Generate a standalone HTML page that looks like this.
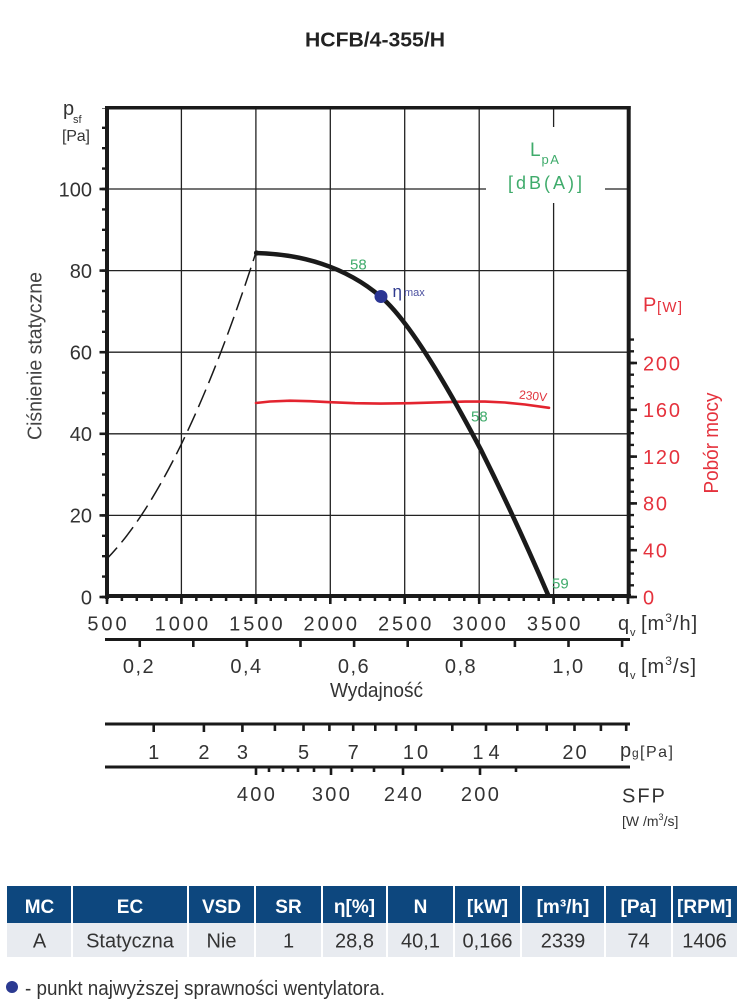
<!DOCTYPE html>
<html><head><meta charset="utf-8">
<style>
html,body{margin:0;padding:0;background:#fff}
svg{display:block}
text{font-family:"Liberation Sans","DejaVu Sans",sans-serif}
</style></head>
<body>
<svg width="740" height="1004" viewBox="0 0 740 1004" xmlns="http://www.w3.org/2000/svg">
<rect width="740" height="1004" fill="#fff"/>

<!-- Title -->
<text x="375" y="46.5" text-anchor="middle" font-size="20" font-weight="bold" fill="#222" textLength="140" lengthAdjust="spacingAndGlyphs">HCFB/4-355/H</text>

<!-- Gridlines -->
<g stroke="#222" stroke-width="1.3" fill="none">
  <line x1="107" y1="515.4" x2="628" y2="515.4"/>
  <line x1="107" y1="433.8" x2="628" y2="433.8"/>
  <line x1="107" y1="352.2" x2="628" y2="352.2"/>
  <line x1="107" y1="270.6" x2="628" y2="270.6"/>
  <line x1="107" y1="189" x2="486" y2="189"/>
  <line x1="605" y1="189" x2="628" y2="189"/>
  <line x1="181.4" y1="108" x2="181.4" y2="596"/>
  <line x1="255.9" y1="108" x2="255.9" y2="596"/>
  <line x1="330.3" y1="108" x2="330.3" y2="596"/>
  <line x1="404.7" y1="108" x2="404.7" y2="596"/>
  <line x1="479.2" y1="108" x2="479.2" y2="596"/>
  <line x1="553.6" y1="108" x2="553.6" y2="127"/>
  <line x1="553.6" y1="203" x2="553.6" y2="596"/>
</g>

<!-- Frame -->
<g stroke="#1a1a1a" fill="none">
  <line x1="105" y1="107.7" x2="630.7" y2="107.7" stroke-width="3.5"/>
  <line x1="107" y1="106" x2="107" y2="599" stroke-width="4"/>
  <line x1="628.7" y1="106" x2="628.7" y2="598" stroke-width="4"/>
  <line x1="105" y1="596" x2="631" y2="596" stroke-width="4"/>
</g>

<!-- Left ticks -->
<g stroke="#1a1a1a">
  <line x1="104.5" y1="598.2" x2="104.5" y2="108" stroke-width="5" stroke-dasharray="2.4 18"/>
  <g stroke-width="2.6">
    <line x1="99.5" y1="597" x2="107" y2="597"/>
    <line x1="99.5" y1="515.4" x2="107" y2="515.4"/>
    <line x1="99.5" y1="433.8" x2="107" y2="433.8"/>
    <line x1="99.5" y1="352.2" x2="107" y2="352.2"/>
    <line x1="99.5" y1="270.6" x2="107" y2="270.6"/>
    <line x1="99.5" y1="189" x2="107" y2="189"/>
  </g>
</g>

<!-- Right ticks -->
<g stroke="#1a1a1a">
  <line x1="631.5" y1="598.2" x2="631.5" y2="337" stroke-width="5" stroke-dasharray="2.4 9.3"/>
  <g stroke-width="2.6">
    <line x1="629" y1="597" x2="637" y2="597"/>
    <line x1="629" y1="550.2" x2="637" y2="550.2"/>
    <line x1="629" y1="503.4" x2="637" y2="503.4"/>
    <line x1="629" y1="456.6" x2="637" y2="456.6"/>
    <line x1="629" y1="409.8" x2="637" y2="409.8"/>
    <line x1="629" y1="363" x2="637" y2="363"/>
  </g>
</g>

<!-- Bottom ticks -->
<g stroke="#1a1a1a">
  <line x1="105.75" y1="598.5" x2="630" y2="598.5" stroke-width="5" stroke-dasharray="2.5 12.386"/>
  <g stroke-width="2.6">
    <line x1="107" y1="596" x2="107" y2="604"/>
    <line x1="181.4" y1="596" x2="181.4" y2="604"/>
    <line x1="255.9" y1="596" x2="255.9" y2="604"/>
    <line x1="330.3" y1="596" x2="330.3" y2="604"/>
    <line x1="404.7" y1="596" x2="404.7" y2="604"/>
    <line x1="479.2" y1="596" x2="479.2" y2="604"/>
    <line x1="553.6" y1="596" x2="553.6" y2="604"/>
    <line x1="628" y1="596" x2="628" y2="604"/>
  </g>
</g>

<!-- LpA label -->
<text x="530" y="156" font-size="19" fill="#3fab6b">L</text>
<text x="541.5" y="164" font-size="13" fill="#3fab6b" letter-spacing="1.5">pA</text>
<text x="508" y="189" font-size="18" fill="#3fab6b" textLength="74" lengthAdjust="spacing">[dB(A)]</text>

<!-- System curve (dashed) -->
<path d="M107,558.7 Q181.45,482.2 255.9,252.6" fill="none" stroke="#1a1a1a" stroke-width="1.5" stroke-dasharray="19 7" stroke-dashoffset="4"/>

<!-- Red power curve -->
<polyline points="256,403 270,401.5 290,400.7 310,401.2 330,402.2 355,403.2 380,403.6 410,403.2 440,402.3 465,401.6 485,401.6 505,402.5 525,404.5 549,407.8" fill="none" stroke="#e3242f" stroke-width="2.6" stroke-linejoin="round" stroke-linecap="round"/>
<text x="533" y="400" font-size="12" fill="#e0323c" text-anchor="middle" transform="rotate(6 533 397)">230V</text>

<!-- Fan curve -->
<path d="M256,253 C300,254 345,266 381,297 C411,322.5 451,393 481,450 Q515,518 549,597" fill="none" stroke="#1a1a1a" stroke-width="4.6" stroke-linejoin="round"/>
<circle cx="256.5" cy="253" r="2.6" fill="#1a1a1a"/>

<!-- Eta max -->
<circle cx="381" cy="296.5" r="6.5" fill="#2b3594"/>
<text x="392.5" y="297" font-size="17" fill="#2f3a8f">η</text>
<text x="404" y="296" font-size="11" fill="#4b50a0">max</text>

<!-- Green dB labels -->
<text x="350" y="269.3" font-size="15" fill="#3fab6b">58</text>
<text x="471" y="421.5" font-size="15" fill="#3fab6b">58</text>
<text x="552" y="588.3" font-size="15" fill="#3fab6b">59</text>

<!-- Left axis labels -->
<text x="63" y="115" font-size="20" fill="#333">p</text>
<text x="73" y="123" font-size="11" fill="#333">sf</text>
<text x="62" y="141" font-size="16" fill="#333" textLength="28" lengthAdjust="spacing">[Pa]</text>
<g font-size="20" fill="#333" text-anchor="end">
  <text x="92" y="604.3">0</text>
  <text x="92" y="522.7">20</text>
  <text x="92" y="441.1">40</text>
  <text x="92" y="359.5">60</text>
  <text x="92" y="277.9">80</text>
  <text x="92" y="196.3">100</text>
</g>
<text transform="translate(41.5,356) rotate(-90)" text-anchor="middle" font-size="20" fill="#444" textLength="168" lengthAdjust="spacingAndGlyphs">Ciśnienie statyczne</text>

<!-- Right axis labels -->
<text x="643" y="311.5" font-size="20" fill="#e5323d">P</text>
<text x="657" y="312" font-size="15" fill="#e5323d" textLength="25" lengthAdjust="spacing">[W]</text>
<g font-size="20" fill="#e5323d" letter-spacing="1.8">
  <text x="643" y="604.3">0</text>
  <text x="643" y="557.5">40</text>
  <text x="643" y="510.7">80</text>
  <text x="643" y="463.9">120</text>
  <text x="643" y="417.1">160</text>
  <text x="643" y="370.3">200</text>
</g>
<text transform="translate(718,443) rotate(-90)" text-anchor="middle" font-size="20" fill="#e5323d" textLength="101" lengthAdjust="spacingAndGlyphs">Pobór mocy</text>

<!-- Bottom axis 1 labels (m3/h) -->
<g font-size="20" fill="#333" text-anchor="middle" letter-spacing="3">
  <text x="108.5" y="630.5">500</text>
  <text x="182.9" y="630.5">1000</text>
  <text x="257.4" y="630.5">1500</text>
  <text x="331.8" y="630.5">2000</text>
  <text x="406.2" y="630.5">2500</text>
  <text x="480.7" y="630.5">3000</text>
  <text x="555.1" y="630.5">3500</text>
</g>
<text x="618" y="630" font-size="20" fill="#333">q</text>
<text x="630" y="636" font-size="11" fill="#333">v</text>
<text x="641" y="630" font-size="20" fill="#333" letter-spacing="1">[m<tspan font-size="12" dy="-8">3</tspan><tspan dy="8">/h]</tspan></text>

<!-- Axis 2 (m3/s) -->
<line x1="105" y1="639.5" x2="630" y2="639.5" stroke="#1a1a1a" stroke-width="3"/>
<g stroke="#1a1a1a" stroke-width="2.6">
  <line x1="139.75" y1="639" x2="139.75" y2="647"/>
  <line x1="193.3" y1="639" x2="193.3" y2="647"/>
  <line x1="246.9" y1="639" x2="246.9" y2="647"/>
  <line x1="300.5" y1="639" x2="300.5" y2="647"/>
  <line x1="354.1" y1="639" x2="354.1" y2="647"/>
  <line x1="407.7" y1="639" x2="407.7" y2="647"/>
  <line x1="461.3" y1="639" x2="461.3" y2="647"/>
  <line x1="514.9" y1="639" x2="514.9" y2="647"/>
  <line x1="568.5" y1="639" x2="568.5" y2="647"/>
  <line x1="622.1" y1="639" x2="622.1" y2="647"/>
</g>
<g font-size="20" fill="#333" text-anchor="middle" letter-spacing="1.5">
  <text x="139" y="673">0,2</text>
  <text x="246.5" y="673">0,4</text>
  <text x="354" y="673">0,6</text>
  <text x="461" y="673">0,8</text>
  <text x="568.5" y="673">1,0</text>
</g>
<text x="618" y="673" font-size="20" fill="#333">q</text>
<text x="630" y="679" font-size="11" fill="#333">v</text>
<text x="641" y="673" font-size="20" fill="#333" letter-spacing="1">[m<tspan font-size="12" dy="-8">3</tspan><tspan dy="8">/s]</tspan></text>
<text x="376.5" y="697" text-anchor="middle" font-size="20" fill="#333" textLength="93" lengthAdjust="spacingAndGlyphs">Wydajność</text>

<!-- Axis 3 (pg) -->
<line x1="105" y1="724" x2="630" y2="724" stroke="#1a1a1a" stroke-width="3"/>
<g stroke="#1a1a1a" stroke-width="2.6">
  <line x1="153.7" y1="723.5" x2="153.7" y2="732"/>
  <line x1="203.9" y1="723.5" x2="203.9" y2="732"/>
  <line x1="242.4" y1="723.5" x2="242.4" y2="732"/>
  <line x1="274.9" y1="723.5" x2="274.9" y2="731"/>
  <line x1="303.5" y1="723.5" x2="303.5" y2="731"/>
  <line x1="329.4" y1="723.5" x2="329.4" y2="731"/>
  <line x1="353.2" y1="723.5" x2="353.2" y2="731"/>
  <line x1="375.3" y1="723.5" x2="375.3" y2="731"/>
  <line x1="396.1" y1="723.5" x2="396.1" y2="731"/>
  <line x1="415.8" y1="723.5" x2="415.8" y2="731"/>
  <line x1="452.3" y1="723.5" x2="452.3" y2="731"/>
  <line x1="486" y1="723.5" x2="486" y2="731"/>
  <line x1="517.3" y1="723.5" x2="517.3" y2="731"/>
  <line x1="546.7" y1="723.5" x2="546.7" y2="731"/>
  <line x1="574.5" y1="723.5" x2="574.5" y2="731"/>
  <line x1="600.9" y1="723.5" x2="600.9" y2="731"/>
  <line x1="626.2" y1="723.5" x2="626.2" y2="731"/>
</g>
<g font-size="20" fill="#333" text-anchor="middle">
  <text x="153.7" y="759">1</text>
  <text x="203.9" y="759">2</text>
  <text x="242.4" y="759">3</text>
  <text x="303.5" y="759">5</text>
  <text x="353.2" y="759">7</text>
  <text x="417" y="759" letter-spacing="3">10</text>
  <text x="488.5" y="759" letter-spacing="5">14</text>
  <text x="575.5" y="759" letter-spacing="2">20</text>
</g>
<text x="620" y="757" font-size="20" fill="#333">p</text>
<text x="632" y="757" font-size="12" fill="#333">g</text>
<text x="640" y="757" font-size="16" fill="#333" letter-spacing="1.5">[Pa]</text>

<!-- Axis 4 (SFP) -->
<line x1="105" y1="767" x2="630" y2="767" stroke="#1a1a1a" stroke-width="3"/>
<g stroke="#1a1a1a" stroke-width="2.6">
  <line x1="256" y1="766.5" x2="256" y2="775"/>
  <line x1="269" y1="766.5" x2="269" y2="772"/>
  <line x1="283" y1="766.5" x2="283" y2="772"/>
  <line x1="298" y1="766.5" x2="298" y2="772"/>
  <line x1="314" y1="766.5" x2="314" y2="772"/>
  <line x1="331" y1="766.5" x2="331" y2="775"/>
  <line x1="352" y1="766.5" x2="352" y2="772"/>
  <line x1="374" y1="766.5" x2="374" y2="772"/>
  <line x1="403" y1="766.5" x2="403" y2="775"/>
  <line x1="442" y1="766.5" x2="442" y2="772"/>
  <line x1="480" y1="766.5" x2="480" y2="775"/>
  <line x1="516" y1="766.5" x2="516" y2="772"/>
</g>
<g font-size="20" fill="#333" text-anchor="middle" letter-spacing="2.3">
  <text x="257" y="801">400</text>
  <text x="332" y="801">300</text>
  <text x="404" y="801">240</text>
  <text x="481" y="801">200</text>
</g>
<text x="622" y="802.5" font-size="20" fill="#333" letter-spacing="2">SFP</text>
<text x="622" y="826" font-size="14" fill="#333">[W /m<tspan font-size="9" dy="-6">3</tspan><tspan dy="6">/s]</tspan></text>

<!-- Table -->
<rect x="7" y="886" width="730" height="37" fill="#0d477e"/>
<rect x="7" y="923" width="730" height="34" fill="#e8ebf0"/>
<g stroke="#fff" stroke-width="2">
  <line x1="72" y1="886" x2="72" y2="957"/>
  <line x1="188" y1="886" x2="188" y2="957"/>
  <line x1="255" y1="886" x2="255" y2="957"/>
  <line x1="322" y1="886" x2="322" y2="957"/>
  <line x1="387" y1="886" x2="387" y2="957"/>
  <line x1="454" y1="886" x2="454" y2="957"/>
  <line x1="521" y1="886" x2="521" y2="957"/>
  <line x1="605" y1="886" x2="605" y2="957"/>
  <line x1="672" y1="886" x2="672" y2="957"/>
</g>
<g font-size="19" font-weight="bold" fill="#fff" text-anchor="middle">
  <text x="39.5" y="913">MC</text>
  <text x="130" y="913">EC</text>
  <text x="221.5" y="913">VSD</text>
  <text x="288.5" y="913">SR</text>
  <text x="354.5" y="913">η[%]</text>
  <text x="420.5" y="913">N</text>
  <text x="487.5" y="913">[kW]</text>
  <text x="563" y="913">[m³/h]</text>
  <text x="638.5" y="913">[Pa]</text>
  <text x="704.5" y="913">[RPM]</text>
</g>
<g font-size="20" fill="#333" text-anchor="middle">
  <text x="39.5" y="947.5">A</text>
  <text x="130" y="947.5">Statyczna</text>
  <text x="221.5" y="947.5">Nie</text>
  <text x="288.5" y="947.5">1</text>
  <text x="354.5" y="947.5">28,8</text>
  <text x="420.5" y="947.5">40,1</text>
  <text x="487.5" y="947.5">0,166</text>
  <text x="563" y="947.5">2339</text>
  <text x="638.5" y="947.5">74</text>
  <text x="704.5" y="947.5">1406</text>
</g>

<!-- Footnote -->
<circle cx="12" cy="987" r="6" fill="#2b3a91"/>
<text x="25" y="995" font-size="20" fill="#333" textLength="360" lengthAdjust="spacingAndGlyphs">- punkt najwyższej sprawności wentylatora.</text>
</svg>
</body></html>
